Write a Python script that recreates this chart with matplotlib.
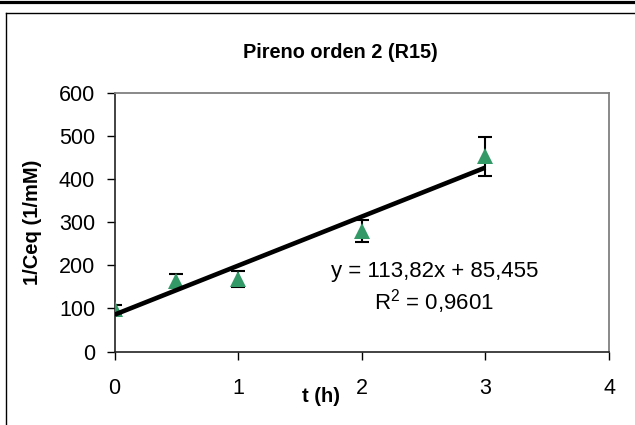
import matplotlib
matplotlib.use("Agg")
import matplotlib.pyplot as plt
from matplotlib.lines import Line2D
import numpy as np

plt.rcParams['font.family'] = ['Liberation Sans', 'DejaVu Sans']
plt.rcParams['mathtext.fontset'] = 'custom'
plt.rcParams['mathtext.rm'] = 'Liberation Sans'
plt.rcParams['mathtext.it'] = 'Liberation Sans'
plt.rcParams['mathtext.default'] = 'regular'

# Data
t_hours = [0, 0.5, 1, 2, 3]
inv_ceq = [98, 164, 168, 280, 453]
err = [10, 17, 18, 25, 46]
slope = 113.82
intercept = 85.455
eq_text = "y = 113,82x + 85,455"
r2_text = r"R$^{2}$ = 0,9601"
title = "Pireno orden 2 (R15)"
xlabel = "t (h)"
ylabel = "1/Ceq (1/mM)"
xticks = [0, 1, 2, 3, 4]
yticks = [0, 100, 200, 300, 400, 500, 600]

W, H = 635, 425
fig = plt.figure(figsize=(W / 100, H / 100), dpi=100)

# outer frame lines
fig.add_artist(Line2D([0, 1], [1 - 1.5 / H, 1 - 1.5 / H], color='black', lw=2.3,
                      transform=fig.transFigure))
fig.add_artist(Line2D([6 / W, 1], [1 - 13.3 / H, 1 - 13.3 / H], color='black', lw=1.0,
                      transform=fig.transFigure))
fig.add_artist(Line2D([6 / W, 6 / W], [0, 1 - 13.3 / H], color='black', lw=1.0,
                      transform=fig.transFigure))

L, R, T, B = 114.5, 609, 93, 351.5
ax = fig.add_axes([L / W, 1 - B / H, (R - L) / W, (B - T) / H])

ax.errorbar(t_hours, inv_ceq, yerr=err, fmt='none', ecolor='black', elinewidth=1.5,
            capsize=5, capthick=1.5, zorder=2)
ax.plot(t_hours, inv_ceq, linestyle='none', marker='^', color='#339966', ms=11.5,
        markeredgewidth=0, zorder=3)
xf = np.array([min(t_hours), max(t_hours)])
ax.plot(xf, slope * xf + intercept, color='black', lw=3.3, zorder=4,
        solid_capstyle='butt')

ax.set_xlim(0, 4)
ax.set_ylim(0, 600)
ax.set_xticks(xticks)
ax.set_yticks(yticks)
ax.tick_params(axis='both', direction='out', length=6, width=1.0, labelsize=15.5,
               colors='black')
ax.tick_params(axis='x', pad=13)
ax.tick_params(axis='y', pad=8)

for s in ['left', 'bottom']:
    ax.spines[s].set_color('#222222')
    ax.spines[s].set_linewidth(1.2)
for s in ['top', 'right']:
    ax.spines[s].set_color('#808080')
    ax.spines[s].set_linewidth(1.3)

fig.text(340 / W, 1 - 52 / H, title, ha='center', va='center', fontsize=14.3,
         fontweight='bold')
fig.text(321 / W, 1 - 396 / H, xlabel, ha='center', va='center', fontsize=14.5,
         fontweight='bold')
fig.text(33 / W, 1 - 222 / H, ylabel, ha='center', va='center', fontsize=14.5,
         fontweight='bold', rotation=90)
fig.text(435 / W, 1 - 271 / H, eq_text, ha='center', va='center', fontsize=16)
fig.text(434 / W, 1 - 302 / H, r2_text, ha='center', va='center', fontsize=16)

fig.savefig('out.png', dpi=100)
